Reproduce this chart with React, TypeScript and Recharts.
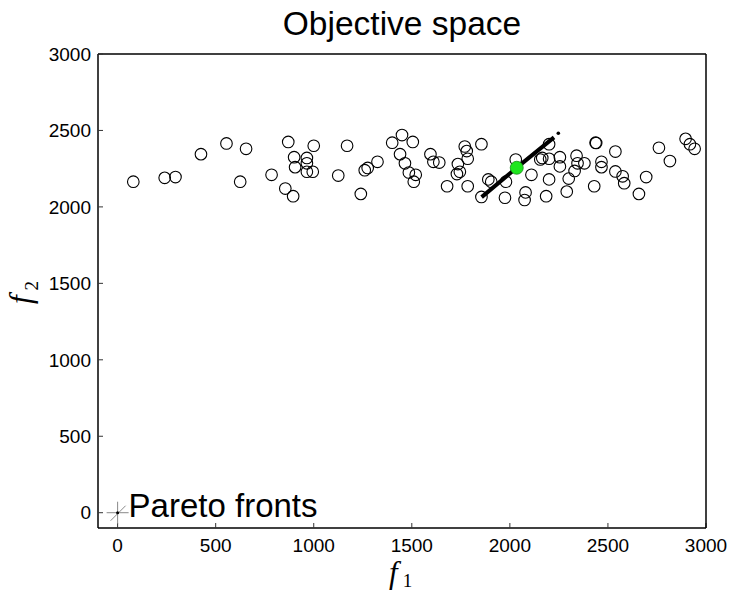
import React from "react";
import {
  ScatterChart,
  Scatter,
  XAxis,
  YAxis,
  Label,
} from "recharts";

// population in objective space
const popF1 = [
  80, 240, 295, 425, 555, 655, 625, 785, 870, 855, 895, 900, 965, 965, 905,
  965, 995, 1000, 1170, 1125, 1240, 1260, 1275, 1325, 1400, 1450, 1505, 1440,
  1465, 1485, 1520, 1510, 1595, 1610, 1640, 1680, 1735, 1745, 1730, 1770,
  1780, 1785, 1785, 1855, 1855, 1890, 1905, 1975, 1980, 2030, 2075, 2080,
  2110, 2155, 2165, 2185, 2200, 2200, 2200, 2255, 2255, 2290, 2300, 2330,
  2340, 2345, 2380, 2430, 2437, 2440, 2467, 2467, 2538, 2538, 2575, 2583,
  2658, 2695, 2760, 2816, 2896, 2918, 2942,
];
const popF2 = [
  2165, 2190, 2195, 2345, 2415, 2380, 2165, 2210, 2425, 2120, 2070, 2325,
  2320, 2285, 2260, 2230, 2230, 2400, 2400, 2205, 2085, 2240, 2255, 2295,
  2420, 2470, 2425, 2345, 2285, 2225, 2210, 2165, 2345, 2295, 2290, 2135,
  2280, 2230, 2215, 2395, 2365, 2315, 2135, 2410, 2065, 2180, 2165, 2060,
  2165, 2310, 2045, 2095, 2210, 2310, 2320, 2070, 2410, 2180, 2315, 2325,
  2265, 2100, 2185, 2235, 2335, 2285, 2285, 2135, 2420, 2418, 2295, 2260,
  2362, 2232, 2200, 2155, 2085, 2195, 2387, 2300, 2445, 2410, 2380,
];

// pareto front approximation
const frontF1 = [1856, 2040, 2225];
const frontF2 = [2064, 2262, 2455];
const frontTip = [{ x: 2247, y: 2482 }];

const selected = [{ x: 2035, y: 2256 }];
const origin = [{ x: 0, y: 0 }];

const xTicks = [0, 500, 1000, 1500, 2000, 2500, 3000];
const yTicks = [0, 500, 1000, 1500, 2000, 2500, 3000];
const domain: [number, number] = [-100, 3000];

const population = popF1.map((x, i) => ({ x, y: popF2[i] }));
const front = frontF1.map((x, i) => ({ x, y: frontF2[i] }));

const sans = "'Liberation Sans', Arial, sans-serif";
const serif = "'Liberation Serif', 'Times New Roman', serif";
const tickStyle = { fill: "#000", fontSize: 19, fontFamily: sans };

const Ring = (p: any) => (
  <circle cx={p.cx} cy={p.cy} r={5.8} fill="none" stroke="#000" strokeWidth={1.1} />
);

const Dot = (p: any) => <circle cx={p.cx} cy={p.cy} r={1.8} fill="#000" />;

const Best = (p: any) => (
  <circle cx={p.cx} cy={p.cy} r={6.5} fill="#1ee61e" stroke="#138a13" strokeWidth={0.8} />
);

const OriginMark = (p: any) => {
  const { cx, cy } = p;
  return (
    <g>
      <line x1={cx - 11} y1={cy} x2={cx + 11} y2={cy} stroke="#888" strokeWidth={1} />
      <line x1={cx} y1={cy - 11} x2={cx} y2={cy + 11} stroke="#888" strokeWidth={1} />
      <line x1={cx - 7} y1={cy + 8} x2={cx + 8} y2={cy - 7} stroke="#888" strokeWidth={1} />
      <circle cx={cx} cy={cy} r={1.5} fill="#000" />
      <text x={cx + 11} y={cy + 4.5} fontSize={33} fontFamily={sans} fill="#000">
        Pareto fronts
      </text>
    </g>
  );
};

const XTitle = (props: any) => {
  const { x, y, width } = props.viewBox;
  const cx = x + width / 2;
  return (
    <text x={cx - 13} y={y + 55} fontFamily={serif} fill="#000">
      <tspan fontSize={31} fontStyle="italic">f</tspan>
      <tspan fontSize={19} dy={4} dx={5}>1</tspan>
    </text>
  );
};

const YTitle = (props: any) => {
  const { x, y, height } = props.viewBox;
  const bx = x - 7;
  const by = y + height / 2 + 13;
  return (
    <text
      x={bx}
      y={by}
      transform={`rotate(-90, ${bx}, ${by})`}
      fontFamily={serif}
      fill="#000"
    >
      <tspan fontSize={31} fontStyle="italic">f</tspan>
      <tspan fontSize={19} dy={7} dx={5}>2</tspan>
    </text>
  );
};

const Title = (props: any) => {
  const { x, y, width } = props.viewBox;
  return (
    <text
      x={x + width / 2}
      y={y - 15}
      textAnchor="middle"
      fontSize={33.5}
      fontFamily={sans}
      fill="#000"
    >
      Objective space
    </text>
  );
};

export default function App() {
  return (
    <div style={{ position: "absolute", left: 0, top: 0, background: "#fff" }}>
      <ScatterChart
        width={730}
        height={592}
        margin={{ top: 50, right: 20, bottom: 4, left: 38 }}
      >
        <XAxis
          type="number"
          dataKey="x"
          domain={domain}
          ticks={xTicks}
          height={60}
          tick={tickStyle}
          tickSize={-5}
          tickMargin={16}
          axisLine={{ stroke: "#000", strokeWidth: 1.5 }}
          tickLine={{ stroke: "#333" }}
          allowDataOverflow
        >
          <Label content={XTitle} />
        </XAxis>
        <XAxis
          xAxisId="top"
          orientation="top"
          type="number"
          dataKey="x"
          domain={domain}
          ticks={xTicks}
          height={4}
          tick={false}
          tickSize={-5}
          axisLine={{ stroke: "#000", strokeWidth: 1.5 }}
          tickLine={{ stroke: "#333" }}
          allowDataOverflow
        >
          <Label content={Title} />
        </XAxis>
        <YAxis
          type="number"
          dataKey="y"
          domain={domain}
          ticks={yTicks}
          width={60}
          tick={tickStyle}
          tickSize={-5}
          tickMargin={12}
          axisLine={{ stroke: "#000", strokeWidth: 1.5 }}
          tickLine={{ stroke: "#333" }}
          allowDataOverflow
        >
          <Label content={YTitle} />
        </YAxis>
        <YAxis
          yAxisId="right"
          orientation="right"
          type="number"
          dataKey="y"
          domain={domain}
          ticks={yTicks}
          width={4}
          tick={false}
          tickSize={-5}
          axisLine={{ stroke: "#000", strokeWidth: 1.5 }}
          tickLine={{ stroke: "#333" }}
          allowDataOverflow
        />
        <Scatter data={population} shape={Ring} isAnimationActive={false} />
        <Scatter
          data={front}
          line={{ stroke: "#000", strokeWidth: 4 }}
          shape={() => <g />}
          isAnimationActive={false}
        />
        <Scatter data={frontTip} shape={Dot} isAnimationActive={false} />
        <Scatter data={selected} shape={Best} isAnimationActive={false} />
        <Scatter data={origin} shape={OriginMark} isAnimationActive={false} />
      </ScatterChart>
    </div>
  );
}
